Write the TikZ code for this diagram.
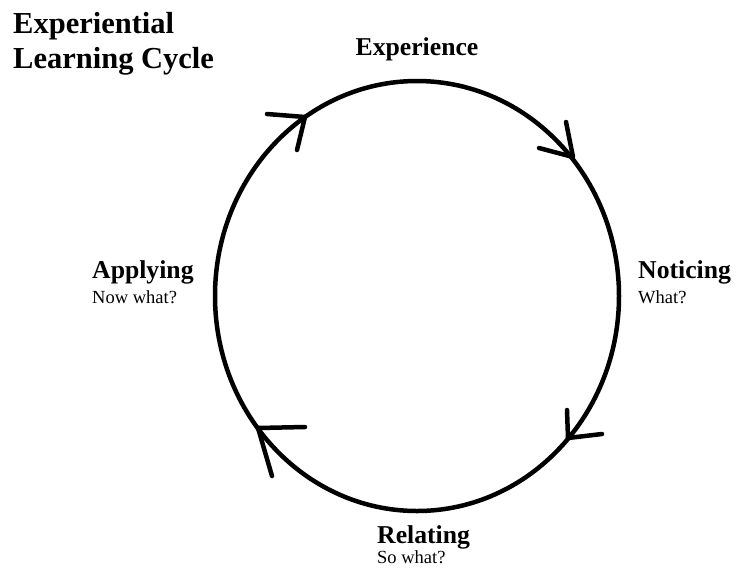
\documentclass[tikz,border=0pt]{standalone}
\usepackage{fontspec}
\setmainfont{Liberation Serif}
\begin{document}
\begin{tikzpicture}[x=1pt,y=-1pt,
  stage/.style={anchor=base west,inner sep=0pt,font=\fontsize{25.7}{30}\selectfont\bfseries},
  question/.style={anchor=base west,inner sep=0pt,font=\fontsize{18.5}{22}\selectfont},
  title/.style={anchor=base west,inner sep=0pt,font=\fontsize{30.5}{35}\selectfont\bfseries},
  ring/.style={line width=4.5pt},
  barb/.style={line width=4.5pt,line cap=round,line join=round}]
\useasboundingbox[fill=white] (0,0) rectangle (736,582);

% title
\node[title] (t1) at (13,33) {Experiential};
\node[title] (t2) at (13,68) {Learning Cycle};

% the cycle
\coordinate (c) at (417,296);
\draw[ring] (c) ellipse [x radius=202, y radius=215];

% open arrowheads along the cycle, clockwise
\coordinate (a1) at (305,117);
\coordinate (a2) at (573,157);
\coordinate (a3) at (568,438);
\coordinate (a4) at (258,428);
\draw[barb] (267,114) -- (a1) -- (297,150);
\draw[barb] (566,122) -- (a2) -- (539,148);
\draw[barb] (567,410) -- (a3) -- (602,434);
\draw[barb] (305,427) -- (a4) -- (272,476);

% stages
\node[stage,anchor=base] (exp) at (417,55) {Experience};
\node[stage] (not) at (638,278) {Noticing};
\node[question] (notq) at (638,303) {What?};
\node[stage] (rel) at (377,543) {Relating};
\node[question] (relq) at (377,563) {So what?};
\node[stage] (app) at (92,278) {Applying};
\node[question] (appq) at (92,303) {Now what?};
\end{tikzpicture}
\end{document}
